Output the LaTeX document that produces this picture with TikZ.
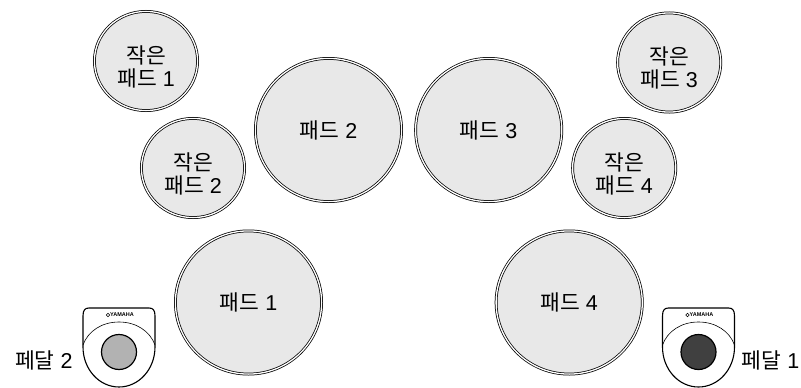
\documentclass[tikz,border=0pt]{standalone}
\usepackage{fontspec}
\setmainfont{Liberation Sans}
\newfontfamily\krfont{Noto Sans CJK KR}
\usepackage{tikz}
\usetikzlibrary{positioning, shapes.geometric}
\definecolor{padgray}{RGB}{232,232,232}
\definecolor{lightfoot}{RGB}{178,178,178}
\definecolor{darkfoot}{RGB}{64,64,64}
\newcommand{\kr}[1]{{\krfont #1}}

\begin{document}
\begin{tikzpicture}[
  x=1pt, y=1pt,
  padbase/.style={ellipse, draw=black, line width=0.75pt, double=white, double distance=1.3pt,
    fill=padgray, inner sep=0, outer sep=0, align=center, font=\fontsize{21.5}{23}\selectfont},
  bigpad/.style={padbase, minimum width=146.2pt, minimum height=143.2pt},
  smallpad/.style={padbase, minimum width=103.2pt, minimum height=99.2pt,
    text height=58pt, text depth=8pt},
  label/.style={font=\fontsize{21.5}{24}\selectfont, inner sep=0},
  shell/.style={draw=black, line width=1.1pt, fill=white},
  rim/.style={draw=black, line width=0.6pt},
  foot/.style={circle, draw=black, line width=1.2pt, minimum size=35pt, inner sep=0},
  logo/.style={font=\fontsize{5.5}{6}\selectfont\bfseries, inner sep=0},
]
\useasboundingbox (0,0) rectangle (801,-388);

% Big pads
\node[bigpad] (pad2) at (328.5,-130) {\kr{패드} 2};
\node[bigpad, right=14pt of pad2] (pad3) {\kr{패드} 3};
\node[bigpad, below=29.3pt of pad2, xshift=-80pt] (pad1) {\kr{패드} 1};
\node[bigpad, below=29.3pt of pad3, xshift=80.5pt] (pad4) {\kr{패드} 4};

% Small pads
\node[smallpad, left=10.8pt of pad2, yshift=-38pt] (small2) {\kr{작은}\\\kr{패드} 2};
\node[smallpad, right=10.8pt of pad3, yshift=-38pt] (small4) {\kr{작은}\\\kr{패드} 4};
\node[smallpad, above=7.8pt of small2, xshift=-47pt] (small1) {\kr{작은}\\\kr{패드} 1};
\node[smallpad, above=6.3pt of small4, xshift=45pt] (small3) {\kr{작은}\\\kr{패드} 3};

% Pedals
\foreach \nm/\px/\col in {pedalL/119/lightfoot, pedalR/698.5/darkfoot} {
  \begin{scope}[shift={(\px,-352)}]
    \draw[shell] (-36,36) -- (-36,5) .. controls (-36,-17) and (-20,-35) .. (0,-35)
      .. controls (20,-35) and (36,-17) .. (36,5) -- (36,36)
      .. controls (36,42) and (34,44) .. (30,44) -- (-30,44)
      .. controls (-34,44) and (-36,42) .. (-36,36) -- cycle;
    \draw[rim] (-36,7) .. controls (-31,21) and (-17,30) .. (0,30)
      .. controls (17,30) and (31,21) .. (36,7);
    \node[foot, fill=\col] (\nm) at (0,0) {};
    \node[logo] (\nm logo) at (3,37) {YAMAHA};
    \draw[line width=0.6pt] (-11,37) circle (1.7);
  \end{scope}
}

% Pedal labels
\node[label, left=28pt of pedalL, yshift=-8pt] (textL) {\kr{페달} 2};
\node[label, right=25pt of pedalR, yshift=-8pt] (textR) {\kr{페달} 1};

\end{tikzpicture}
\end{document}
